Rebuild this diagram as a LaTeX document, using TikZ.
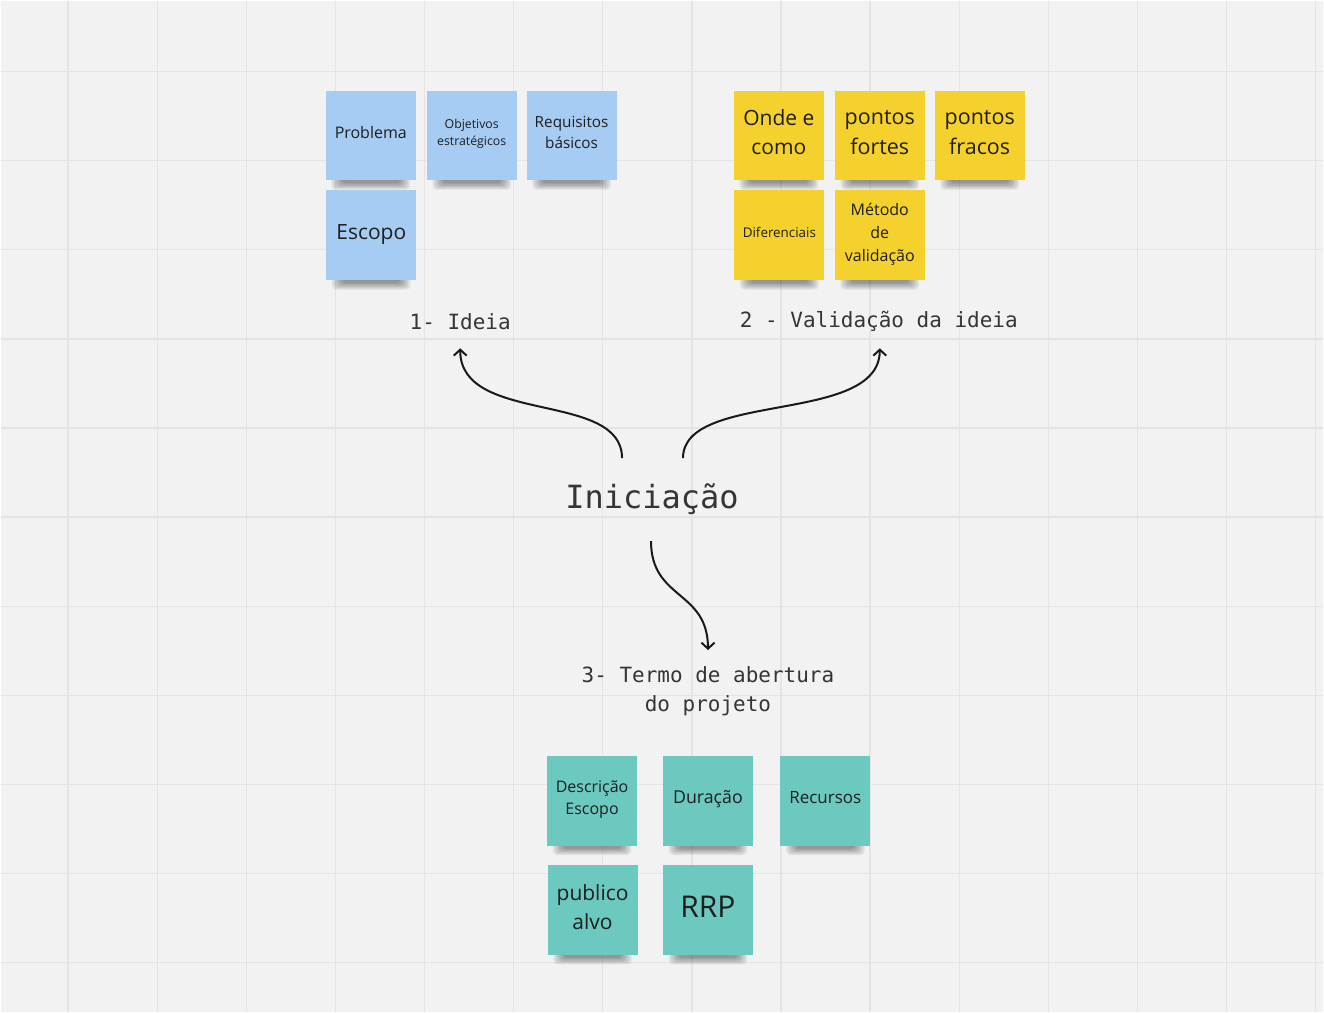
\documentclass[tikz,border=0pt]{standalone}
\usepackage{fontspec}
\setmainfont{Open Sans}
\newfontfamily\monof{DejaVu Sans Mono}
\usetikzlibrary{arrows.meta,calc}
\definecolor{bgc}{HTML}{F2F2F2}
\definecolor{gridc}{HTML}{E4E4E4}
\definecolor{blueN}{HTML}{A6CCF4}
\definecolor{yelN}{HTML}{F5D12E}
\definecolor{tealN}{HTML}{6CC9C0}
\definecolor{ink}{HTML}{1E1E1E}
\newcommand\setfs[2]{\fontsize{#1}{#2}\selectfont}
\pgfdeclarelayer{back}
\pgfsetlayers{back,main}
\tikzset{
  note/.style={minimum width=90pt, minimum height=90pt, inner sep=0pt,
    align=center, text=ink, text depth=7pt},
  bnote/.style={note, fill=blueN},
  ynote/.style={note, fill=yelN},
  tnote/.style={note, fill=tealN},
  shadowlayer/.style={fill=black, fill opacity=0.075, rounded corners=4pt},
  mono/.style={text=ink!90, font=\monof\setfs{21}{29}, align=center, inner sep=0pt},
  conn/.style={line width=2pt, black!90, -{Straight Barb[length=6pt,width=13pt]}}
}
\begin{document}
\begin{tikzpicture}[x=1pt,y=-1pt]
\begin{pgfonlayer}{back}
\fill[bgc] (0,0) rectangle (1324,1012);
\foreach \i in {0,...,14} \draw[gridc, line width=1.3pt] ({67.5+89.2*\i},0) -- ({67.5+89.2*\i},1012);
\foreach \j in {0,...,10} \draw[gridc, line width=1.3pt] (0,{71+89.2*\j}) -- (1324,{71+89.2*\j});
\end{pgfonlayer}
\useasboundingbox (0,0) rectangle (1324,1012);

% blue notes
\node[bnote, font=\setfs{16}{22}] (prob) at (370.5,135) {Problema};
\node[bnote, font=\setfs{12.3}{17}] (obj) at (471.5,135) {Objetivos\\estratégicos};
\node[bnote, font=\setfs{15.3}{21}] (req) at (571.5,135) {Requisitos\\básicos};
\node[bnote, font=\setfs{21}{29}] (esc) at (371,235) {Escopo};

% yellow notes
\node[ynote, font=\setfs{21}{29}] (onde) at (779,135) {Onde e\\como};
\node[ynote, font=\setfs{21.5}{30}] (fortes) at (880,135) {pontos\\fortes};
\node[ynote, font=\setfs{21.5}{30}] (fracos) at (980,135) {pontos\\fracos};
\node[ynote, font=\setfs{13.4}{18}] (dif) at (779.5,235) {Diferenciais};
\node[ynote, font=\setfs{16}{23}] (met) at (880,235) {Método\\de\\validação};

% teal notes
\node[tnote, font=\setfs{16}{22}] (desc) at (592,801) {Descrição\\Escopo};
\node[tnote, font=\setfs{17.8}{24}] (dur) at (708,801) {Duração};
\node[tnote, font=\setfs{17}{24}] (rec) at (825.5,801) {Recursos};
\node[tnote, font=\setfs{21}{29}] (pub) at (592.5,910.5) {publico\\alvo};
\node[tnote, font=\setfs{30}{36}] (rrp) at (708,910.5) {RRP};

% shadows under the notes
\begin{pgfonlayer}{back}
\foreach \n in {prob,obj,req,esc,onde,fortes,fracos,dif,met,desc,dur,rec,pub,rrp}{
  \foreach \k in {0,...,5}{
    \fill[shadowlayer] ($(\n.south west)+({6+2*\k},-20)$) rectangle ($(\n.south east)+({-6-2*\k},{9-1.3*\k})$);
  }
}
\end{pgfonlayer}

% labels
\node[mono] (ideia) at (460,321) {1- Ideia};
\node[mono] (valid) at (879,321) {2 - Validação da ideia};
\node[mono, font=\monof\setfs{32}{40}] (ini) at (652,499) {Iniciação};
\node[mono] (termo) at (708,691) {3- Termo de abertura\\do projeto};

% connector ends
\coordinate (s1) at (622,458);
\coordinate (e1) at (460,348);
\coordinate (s2) at (683,458);
\coordinate (e2) at (880,348);
\coordinate (s3) at (651,541);
\coordinate (e3) at (708,650);

\draw[conn] (s1) .. controls (622,390) and (460,425) .. (e1);
\draw[conn] (s2) .. controls (683,390) and (880,425) .. (e2);
\draw[conn] (s3) .. controls (651,600) and (708,590) .. (e3);
\end{tikzpicture}
\end{document}
